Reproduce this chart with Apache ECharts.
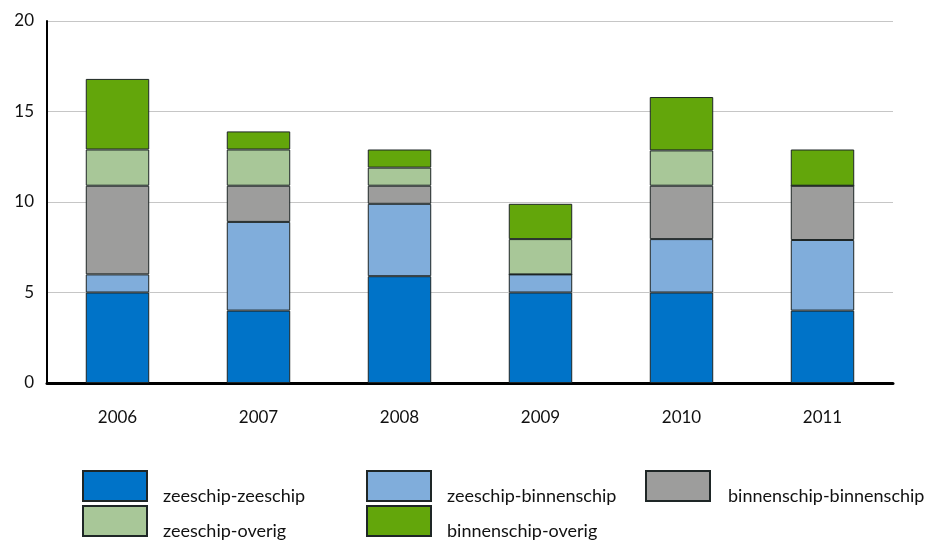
<!DOCTYPE html>
<html>
<head>
<meta charset="utf-8">
<script src="https://cdn.jsdelivr.net/npm/echarts@6/dist/echarts.min.js"></script>
<style>html,body{margin:0;padding:0;background:#fff}#c{width:925px;height:540px}</style>
</head>
<body>
<div id="c"></div>
<script>
const categories = ['2006', '2007', '2008', '2009', '2010', '2011'];
const seriesNames = ['zeeschip-zeeschip', 'zeeschip-binnenschip', 'binnenschip-binnenschip', 'zeeschip-overig', 'binnenschip-overig'];
const zeeZee = [5, 4, 5.9, 5, 5, 4];
const zeeBinnen = [1, 4.9, 4, 1, 2.95, 3.9];
const binnenBinnen = [4.9, 2, 1, 0, 2.95, 3];
const zeeOverig = [2, 2, 1, 1.95, 1.95, 0];
const binnenOverig = [3.9, 1, 1, 1.95, 2.95, 2];
const yTicks = [0, 5, 10, 15, 20];

const colors = ['#0073C8', '#80ADDB', '#9D9D9C', '#A8C798', '#63A60B'];
const values = [zeeZee, zeeBinnen, binnenBinnen, zeeOverig, binnenOverig];
const FONT = 'Lato, sans-serif';

const chart = echarts.init(document.getElementById('c'), null, {renderer: 'canvas'});
const legendPos = [[82, 470], [366, 470], [645, 470], [82, 505], [366, 505]];
const legendGap = [11, 11, 13, 11, 11];
chart.setOption({
  animation: false,
  backgroundColor: '#fff',
  grid: {left: 47, right: 32, top: 21, bottom: 157, containLabel: false},
  xAxis: {
    type: 'category',
    data: categories,
    axisLine: {lineStyle: {color: '#000', width: 3}},
    axisTick: {show: false},
    axisLabel: {margin: 26, color: '#111', fontSize: 17, fontFamily: FONT}
  },
  yAxis: {
    type: 'value',
    min: 0, max: 20, interval: 5,
    axisLine: {show: true, lineStyle: {color: '#000', width: 2}},
    axisTick: {show: false},
    splitLine: {lineStyle: {color: '#c6c6c6', width: 1}},
    axisLabel: {margin: 13, color: '#111', fontSize: 17, fontFamily: FONT,
      formatter: v => yTicks.includes(v) ? String(v) : ''}
  },
  legend: seriesNames.map((n, i) => ({
    data: [n], left: legendPos[i][0], top: legendPos[i][1], width: 300,
    itemWidth: 64, itemHeight: 30, padding: 0, icon: 'rect',
    formatter: '{t|{name}}',
    textStyle: {
      fontSize: 18, color: '#111', fontFamily: FONT,
      rich: {t: {fontSize: 18, color: '#111', fontFamily: FONT, padding: [20, 0, 0, legendGap[i]]}}
    }
  })),
  series: seriesNames.map((n, i) => ({
    name: n, type: 'bar', stack: 'total', data: values[i],
    barWidth: '45%',
    itemStyle: {color: colors[i], borderColor: '#1e2626', borderWidth: 1}
  }))
});
</script>
</body>
</html>
